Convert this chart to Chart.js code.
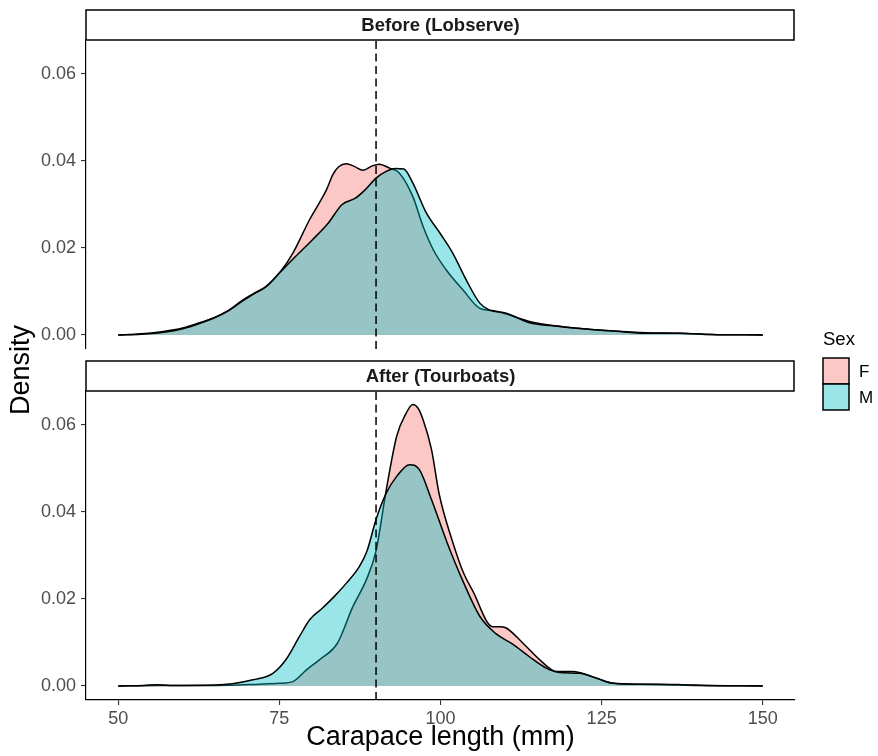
<!DOCTYPE html>
<html>
<head>
<meta charset="utf-8">
<script src="https://cdn.jsdelivr.net/npm/chart.js@4.4.1/dist/chart.umd.min.js"></script>
<style>
  html, body { margin: 0; padding: 0; background: #fff; }
  #wrap { position: relative; width: 878px; height: 756px; }
  canvas { position: absolute; left: 0; top: 0; }
</style>
</head>
<body>
<div id="wrap">
  <canvas id="before" width="878" height="756"></canvas>
  <canvas id="after" width="878" height="756"></canvas>
</div>
<script>
// Dados (densidade do comprimento da carapaça)
const beforeFx = [50, 53, 57, 60, 62.6, 65, 67, 69.3, 71, 72.9, 75, 77.1, 79.7, 81.2, 82.3, 83.3, 84.2, 85.4, 86.6, 88, 89.4, 90.5, 92.1, 93.6, 95.7, 97.3, 98.9, 100.9, 103.5, 106.1, 108.1, 110.2, 113.8, 119, 126.8, 132, 137.1, 142, 150];
const beforeF  = [0, 0.0002, 0.0008, 0.0016, 0.0028, 0.0040, 0.0055, 0.0080, 0.0095, 0.0111, 0.0142, 0.0188, 0.0265, 0.0303, 0.0333, 0.0368, 0.0386, 0.0393, 0.0387, 0.0378, 0.0388, 0.0392, 0.0383, 0.0372, 0.0318, 0.0249, 0.0195, 0.0149, 0.0103, 0.0061, 0.0056, 0.0048, 0.0031, 0.0019, 0.0009, 0.0005, 0.0004, 0.0001, 0];

const beforeMx = [50, 53, 57, 60, 62.6, 65, 67, 69.3, 71, 72.9, 75, 77.5, 80.1, 82.6, 84.7, 86.8, 88.3, 90, 91.5, 93.1, 94.3, 95.7, 97.8, 99.9, 101.9, 104, 106.1, 107.6, 110.2, 113.8, 117.4, 122, 126.8, 132, 137.1, 142, 150];
const beforeM  = [0, 0.0001, 0.0006, 0.0014, 0.0026, 0.0040, 0.0055, 0.0078, 0.0094, 0.0110, 0.0142, 0.0180, 0.0218, 0.0257, 0.0299, 0.0314, 0.0333, 0.0360, 0.0375, 0.0382, 0.0381, 0.0349, 0.0280, 0.0234, 0.0188, 0.0126, 0.0073, 0.0057, 0.0050, 0.0028, 0.0021, 0.0014, 0.0009, 0.0004, 0.0004, 0.0001, 0];

const afterFx = [50, 56, 65, 71.9, 75, 77.1, 79.2, 81.2, 84, 86.4, 88.5, 90, 91.6, 93.2, 94.7, 95.7, 96.5, 97.3, 98.6, 99.8, 101.9, 103.5, 105, 108.1, 109.2, 110.2, 112.8, 115.4, 118, 120.6, 123.2, 126.8, 131, 135, 140, 150];
const afterF  = [0, 0.0001, 0.0001, 0.0004, 0.0006, 0.0010, 0.0037, 0.0060, 0.0098, 0.0182, 0.0244, 0.0310, 0.0451, 0.0573, 0.0627, 0.0646, 0.0638, 0.0611, 0.0543, 0.0440, 0.0330, 0.0262, 0.0218, 0.0136, 0.0136, 0.0133, 0.0098, 0.0060, 0.0033, 0.0033, 0.0023, 0.0006, 0.0004, 0.0003, 0.0001, 0];

const afterMx = [50, 54, 56, 58, 65, 67.7, 70.9, 74, 76, 78.1, 79.7, 81.7, 83.5, 85.4, 87.4, 88.6, 90, 91.6, 93.2, 95.2, 96.7, 98.6, 101, 103.5, 106.1, 108.6, 111.2, 113.8, 116.4, 118.5, 121.6, 124.2, 126.8, 130.4, 133.9, 137.5, 142, 150];
const afterM  = [0, 0.0001, 0.0003, 0.0001, 0.0002, 0.0005, 0.0014, 0.0029, 0.0060, 0.0113, 0.0152, 0.0179, 0.0205, 0.0236, 0.0274, 0.0310, 0.0382, 0.0443, 0.0481, 0.0508, 0.0497, 0.0428, 0.0330, 0.0240, 0.0160, 0.0120, 0.0096, 0.0067, 0.0041, 0.0031, 0.0029, 0.0018, 0.0006, 0.0004, 0.0004, 0.0003, 0.0001, 0];

const xTicks = [50, 75, 100, 125, 150];
const yTicks = [0, 0.02, 0.04, 0.06];
const cutoff = 90;
const sexLabels = ['F', 'M'];

// cores (ggplot padrão, alpha 0.4)
const colF = 'rgba(248,118,109,0.4)';
const colM = 'rgba(0,191,196,0.4)';
const FONT = '"Liberation Sans", Arial, Helvetica, sans-serif';
const xMin = 45, xMax = 155, yMin = -0.003225, yMax = 0.0677;

const pts = (xs, ys) => xs.map((x, i) => ({ x: x, y: ys[i] }));

const decor = {
  id: 'decor',
  afterDraw(chart, args, o) {
    const { ctx, chartArea: a } = chart;
    ctx.save();
    // faixa do painel
    ctx.fillStyle = '#fff';
    ctx.fillRect(a.left, a.top - 30, a.right - a.left - 1, 30);
    ctx.lineWidth = 1.5;
    ctx.strokeStyle = '#000';
    ctx.strokeRect(a.left, a.top - 30, a.right - a.left - 1, 30);
    ctx.fillStyle = '#1A1A1A';
    ctx.font = 'bold 18.5px ' + FONT;
    ctx.textAlign = 'center';
    ctx.textBaseline = 'middle';
    ctx.fillText(o.text, (a.left + a.right) / 2, a.top - 15 + 1);

    if (o.extras) {
      // título do eixo y
      ctx.save();
      ctx.translate(22, 370);
      ctx.rotate(-Math.PI / 2);
      ctx.fillStyle = '#000';
      ctx.font = '27px ' + FONT;
      ctx.fillText('Density', 0, 0);
      ctx.restore();

      // legenda
      ctx.textAlign = 'left';
      ctx.fillStyle = '#000';
      ctx.font = '18.5px ' + FONT;
      ctx.fillText('Sex', 823, 340);
      [colF, colM].forEach((c, i) => {
        const y = 358 + i * 26;
        ctx.fillStyle = '#fff';
        ctx.fillRect(823, y, 26, 26);
        ctx.fillStyle = c;
        ctx.fillRect(823, y, 26, 26);
        ctx.lineWidth = 1.5;
        ctx.strokeStyle = '#000';
        ctx.strokeRect(823, y, 26, 26);
        ctx.fillStyle = '#000';
        ctx.font = '17px ' + FONT;
        ctx.fillText(sexLabels[i], 859, y + 14);
      });
    }
    ctx.restore();
  }
};

function panel(id, text, fData, mData, bottom) {
  return new Chart(document.getElementById(id), {
    type: 'line',
    data: {
      datasets: [
        { label: 'F', data: fData, order: 2, backgroundColor: colF, fill: 'origin' },
        { label: 'M', data: mData, order: 1, backgroundColor: colM, fill: 'origin' },
        { label: 'cutoff', data: [{ x: cutoff, y: yMin }, { x: cutoff, y: yMax }], order: 0,
          borderColor: '#000', borderWidth: 1.5, borderDash: [8, 4.5], fill: false, cubicInterpolationMode: 'default', tension: 0 }
      ]
    },
    options: {
      responsive: false,
      animation: false,
      devicePixelRatio: 1,
      layout: { padding: { left: 0, right: 83, top: bottom ? 391 : 40, bottom: bottom ? 0 : 407 } },
      elements: {
        point: { radius: 0 },
        line: { borderColor: '#000', borderWidth: 1.5, cubicInterpolationMode: 'monotone' }
      },
      plugins: {
        legend: { display: false },
        tooltip: { enabled: false },
        decor: { text: text, extras: !bottom }
      },
      scales: {
        x: {
          type: 'linear', min: xMin, max: xMax, display: bottom,
          afterBuildTicks: s => { s.ticks = xTicks.map(v => ({ value: v })); },
          afterFit: s => { s.height = bottom ? 56 : 0; },
          ticks: { color: '#4D4D4D', font: { family: FONT, size: 18 }, padding: 3, maxRotation: 0, callback: v => String(v) },
          grid: { drawOnChartArea: false, drawTicks: true, tickLength: 5, color: '#333333', lineWidth: 1.1 },
          border: { display: true, color: '#000', width: 1.2 },
          title: { display: true, text: 'Carapace length (mm)', color: '#000', font: { family: FONT, size: 27 }, padding: { top: 0, bottom: 2 } }
        },
        y: {
          type: 'linear', min: yMin, max: yMax,
          afterBuildTicks: s => { s.ticks = yTicks.map(v => ({ value: v })); },
          afterFit: s => { s.width = 86; },
          ticks: { color: '#4D4D4D', font: { family: FONT, size: 18 }, padding: 5, callback: v => v.toFixed(2) },
          grid: { drawOnChartArea: false, drawTicks: true, tickLength: 5, color: '#333333', lineWidth: 1.1 },
          border: { display: true, color: '#000', width: 1.2 }
        }
      }
    },
    plugins: [decor]
  });
}

panel('before', 'Before (Lobserve)', pts(beforeFx, beforeF), pts(beforeMx, beforeM), false);
panel('after', 'After (Tourboats)', pts(afterFx, afterF), pts(afterMx, afterM), true);
</script>
</body>
</html>
